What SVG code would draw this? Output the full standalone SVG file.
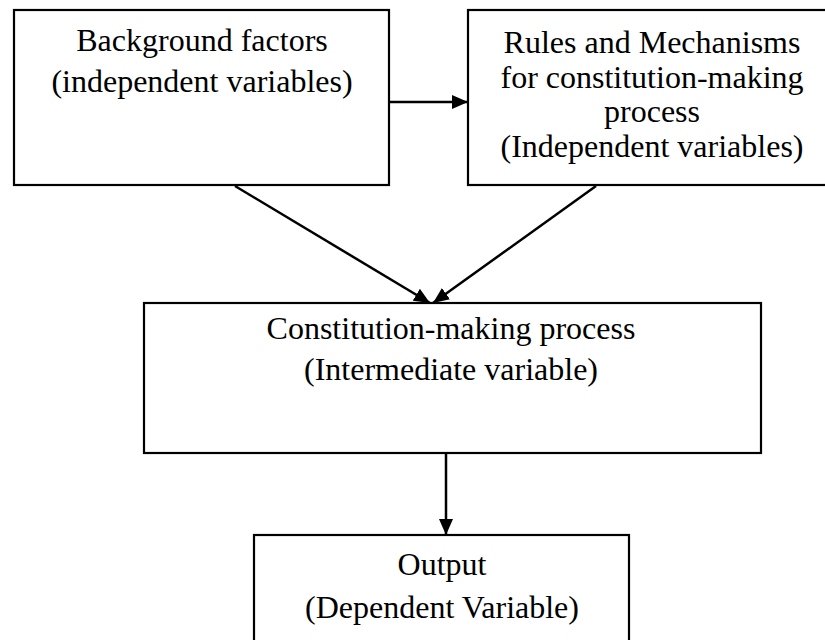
<svg xmlns="http://www.w3.org/2000/svg" width="825" height="640" viewBox="0 0 825 640">
<style>
.box{fill:#fff;stroke:#000;stroke-width:2.2}
.t{font-family:"Liberation Serif","Times New Roman",serif;font-size:32px;fill:#000;text-anchor:middle}
.c{stroke:#000;stroke-width:2.5;fill:none;marker-end:url(#ah)}
</style>
<defs>
<marker id="ah" markerUnits="userSpaceOnUse" markerWidth="16" markerHeight="14" viewBox="0 0 16 14" refX="16" refY="7" orient="auto">
<path d="M0,0 L16,7 L0,14 z" fill="#000"/>
</marker>
</defs>
<rect width="825" height="640" fill="#fff"/>
<g id="n1">
<rect class="box" x="14" y="10" width="375" height="175"/>
<text class="t" x="202" y="51">Background factors</text>
<text class="t" x="202" y="92">(independent variables)</text>
</g>
<g id="n2">
<rect class="box" x="468" y="10" width="368" height="175"/>
<text class="t" x="652" y="53">Rules and Mechanisms</text>
<text class="t" x="652" y="88">for constitution-making</text>
<text class="t" x="652" y="122">process</text>
<text class="t" x="652" y="157">(Independent variables)</text>
</g>
<g id="n3">
<rect class="box" x="144" y="303" width="617" height="150"/>
<text class="t" x="451" y="339">Constitution-making process</text>
<text class="t" x="451" y="380">(Intermediate variable)</text>
</g>
<g id="n4">
<rect class="box" x="254" y="535" width="375" height="120"/>
<text class="t" x="442" y="575">Output</text>
<text class="t" x="442" y="618">(Dependent Variable)</text>
</g>
<g id="connectors">
<line class="c" x1="389" y1="102" x2="468" y2="102"/>
<line class="c" x1="235" y1="186" x2="430" y2="303"/>
<line class="c" x1="596" y1="186" x2="433" y2="303"/>
<line class="c" x1="446" y1="453" x2="446" y2="535"/>
</g>
</svg>
